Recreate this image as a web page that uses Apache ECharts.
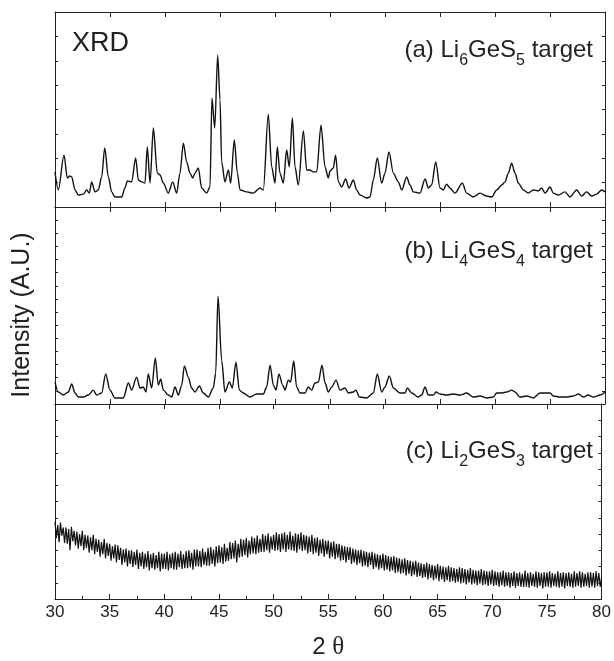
<!DOCTYPE html>
<html>
<head>
<meta charset="utf-8">
<script src="https://cdn.jsdelivr.net/npm/echarts@6/dist/echarts.min.js"></script>
<style>
  html, body { margin: 0; padding: 0; background: #fff; }
  #chart { width: 614px; height: 661px; }
</style>
</head>
<body>
<div id="chart"></div>
<script>
// 2-theta axis
const xMin = 30;
const xMax = 80;
const xStep = 5;

// panel heights in A.U.
const yMaxA = 800;
const yMaxB = 1500;
const yMaxC = 1200;

// (a) Li6GeS5 target  [2theta, intensity]
const patternA = [
  [30.00,144],[30.30,70],[30.82,213],[31.12,119],[31.36,127],[31.52,123],[31.82,70],[32.12,49],[32.58,53],[32.88,70],
  [33.12,57],[33.33,103],[33.64,62],[33.94,70],[34.24,123],[34.52,242],[34.85,123],[35.15,62],[35.45,41],[36.06,41],
  [36.36,78],[36.58,107],[36.97,103],[37.33,201],[37.58,111],[37.88,103],[38.18,98],[38.39,246],[38.64,98],[38.94,324],
  [39.30,139],[39.55,131],[39.85,98],[40.30,57],[40.70,103],[41.06,57],[41.36,139],[41.67,262],[41.97,185],[42.27,139],
  [42.52,119],[42.73,139],[43.03,160],[43.33,78],[43.79,57],[44.09,82],[44.27,447],[44.52,324],[44.79,623],[45.00,439],
  [45.15,185],[45.45,103],[45.76,152],[45.97,98],[46.30,275],[46.58,139],[46.82,70],[47.42,62],[48.03,57],[48.64,78],
  [48.94,70],[49.39,381],[49.70,164],[50.00,98],[50.21,246],[50.45,139],[50.76,98],[51.06,234],[51.30,164],[51.58,365],
  [51.82,164],[52.12,90],[52.58,312],[52.88,152],[53.18,152],[53.48,144],[53.79,144],[54.18,336],[54.55,164],[54.85,119],
  [55.00,148],[55.30,160],[55.51,213],[55.76,103],[56.06,82],[56.42,115],[56.73,78],[57.12,111],[57.42,70],[57.73,49],
  [58.33,37],[58.64,41],[58.94,111],[59.30,201],[59.70,98],[60.00,139],[60.36,226],[60.76,139],[61.21,103],[61.52,70],
  [61.97,123],[62.27,90],[62.58,62],[63.18,57],[63.64,115],[63.94,78],[64.24,90],[64.61,185],[65.00,78],[65.30,70],
  [65.60,94],[65.91,78],[66.36,57],[67.03,98],[67.42,57],[68.03,41],[68.64,57],[69.24,45],[69.70,41],[70.15,70],
  [70.61,90],[70.91,103],[71.21,139],[71.51,180],[71.82,139],[72.12,98],[72.58,70],[73.03,57],[73.48,70],[73.94,66],
  [74.24,78],[74.55,57],[75.00,82],[75.30,57],[75.76,49],[76.36,62],[76.82,41],[77.42,70],[77.88,45],[78.33,62],
  [78.79,45],[79.24,53],[79.70,70],[80.00,62]
];

// (b) Li4GeS4 target  [2theta, intensity]
const patternB = [
  [30.00,167],[30.30,91],[30.76,68],[31.21,91],[31.52,152],[31.82,84],[32.12,53],[32.58,53],[33.03,68],[33.48,106],
  [33.79,68],[34.24,84],[34.61,228],[35.00,106],[35.45,46],[36.21,46],[36.67,160],[36.97,106],[37.42,205],[37.73,122],
  [38.03,129],[38.27,91],[38.48,228],[38.79,122],[39.12,350],[39.39,144],[39.61,190],[39.85,106],[40.30,68],[40.61,53],
  [40.91,129],[41.21,68],[41.52,144],[41.76,289],[42.12,205],[42.42,122],[42.73,91],[43.12,137],[43.48,84],[43.94,53],
  [44.39,122],[44.61,236],[44.82,821],[45.15,334],[45.45,91],[45.85,167],[46.12,122],[46.45,319],[46.76,106],[47.12,84],
  [47.73,53],[48.33,76],[48.94,76],[49.24,129],[49.55,296],[49.85,144],[50.09,106],[50.36,228],[50.70,144],[50.91,106],
  [51.21,182],[51.42,167],[51.70,327],[51.97,129],[52.27,84],[52.73,84],[53.03,129],[53.33,106],[53.64,160],[53.94,167],
  [54.27,296],[54.55,160],[54.85,91],[55.15,129],[55.55,182],[55.91,106],[56.36,122],[56.67,84],[57.12,91],[57.36,106],
  [57.67,53],[58.33,46],[58.94,84],[59.30,228],[59.70,91],[60.00,129],[60.39,213],[60.76,122],[61.36,84],[61.82,84],
  [62.03,122],[62.42,84],[63.03,53],[63.33,68],[63.64,129],[63.94,68],[64.39,68],[64.64,91],[65.00,76],[65.60,68],
  [66.20,76],[66.82,68],[67.42,84],[68.03,53],[68.64,61],[69.24,46],[69.85,53],[70.15,84],[70.61,84],[71.06,91],
  [71.52,106],[71.82,91],[72.27,53],[72.88,61],[73.48,46],[74.09,84],[74.55,84],[75.00,84],[75.30,61],[75.91,53],
  [76.52,53],[77.12,61],[77.58,76],[78.03,53],[78.48,68],[78.94,53],[79.55,68],[80.00,91]
];

// (c) Li2GeS3 target, amorphous - one reading every 0.125 deg from 30 to 80
const startC = 30;
const stepC = 0.125;
const intensityC = [
  475,375,455,350,470,390,440,345,  440,340,430,300,445,355,420,330,
  415,310,400,325,420,300,395,315,  390,285,380,300,395,275,370,290,
  365,260,350,275,370,250,345,265,  340,235,325,250,335,225,330,240,
  315,210,305,225,310,200,300,215,  300,195,290,210,305,185,285,200,
  290,185,280,195,295,175,275,190,  285,180,270,190,290,170,280,185,
  280,185,290,175,275,190,285,180,  290,180,280,195,295,185,275,190,
  295,190,300,195,285,180,305,200,  305,200,295,195,310,210,290,205,
  315,205,320,215,305,200,325,220,  330,225,320,215,340,230,315,235,
  350,245,345,250,360,225,340,255,  370,260,365,270,375,255,360,275,
  385,280,375,275,390,285,370,290,  400,290,390,300,405,285,385,305,
  395,295,410,300,400,290,405,305,  410,290,395,305,415,300,390,295,
  405,285,400,305,410,295,395,300,  390,280,385,290,395,275,375,285,
  380,265,365,280,370,260,360,275,  360,250,350,260,355,245,340,255,
  340,235,330,240,325,225,320,240,  320,215,310,225,305,210,300,220,
  305,200,295,205,290,195,285,210,  290,185,280,195,275,180,270,190,
  280,175,270,180,265,170,260,175,  265,160,255,165,250,155,245,160,
  250,145,240,155,235,140,230,150,  235,135,225,140,220,130,215,135,
  225,120,215,130,210,115,205,125,  215,110,205,120,200,105,195,115,
  205,105,195,110,190,100,185,105,  195,95,190,100,185,90,180,100,
  190,90,180,95,175,85,175,95,      185,85,175,90,170,80,170,90,
  180,80,170,85,165,75,165,85,      175,75,165,80,165,70,160,80,
  170,70,160,80,165,75,155,75,      175,75,160,70,165,80,155,75,
  170,70,165,80,160,65,165,75,      165,75,170,70,160,80,155,75,
  170,70,160,75,165,65,160,80,      165,75,155,70,170,75,160,80,
  170,70,165,75,155,80,165,70,      165,75,160,70,170,80,160,75,
  130
];

const frameColor = "#222";
const traceColor = "#111";
const sans = '"Liberation Sans", Arial, sans-serif';

const grids = [
  { left: 55, right: 9, top: 12, height: 195 },
  { left: 55, right: 9, top: 207, height: 197 },
  { left: 55, right: 9, top: 404, height: 196 },
];

function xAxisFor(gridIndex, position) {
  let isBottom = gridIndex === 2 && position === "bottom";
  let axis = {
    type: "value",
    gridIndex: gridIndex,
    position: position,
    min: xMin,
    max: xMax,
    interval: xStep,
    axisLine: { show: true, onZero: false, lineStyle: { color: frameColor, width: 1 } },
    axisTick: { show: true, inside: true, length: 5, lineStyle: { color: frameColor } },
    axisLabel: { show: false },
    splitLine: { show: false },
  };
  if (isBottom) {
    axis.axisLabel = { show: true, color: "#222", fontSize: 17, fontFamily: sans, margin: 5 };
    axis.minorTick = { show: true, splitNumber: 2, length: 3, lineStyle: { color: frameColor } };
    axis.name = "{a|2 }{b|θ}";
    axis.nameLocation = "middle";
    axis.nameGap = 36;
    axis.nameTextStyle = {
      rich: {
        a: { fontSize: 24, fontFamily: sans, color: "#222" },
        b: { fontSize: 25, fontFamily: '"Liberation Serif", "Times New Roman", serif', color: "#222" },
      },
    };
  }
  return axis;
}

function yAxisFor(gridIndex, position, yMax) {
  return {
    type: "value",
    gridIndex: gridIndex,
    position: position,
    min: 0,
    max: yMax,
    interval: 100,
    axisLine: { show: true, onZero: false, lineStyle: { color: frameColor, width: 1 } },
    axisTick: { show: true, inside: true, length: 3, lineStyle: { color: frameColor } },
    axisLabel: { show: false },
    splitLine: { show: false },
  };
}

let seriesC = intensityC.map((v, i) => [startC + i * stepC, v]);

// panel label with subscripts
function panelLabel(y, parts) {
  return {
    type: "text",
    x: 593,
    y: y,
    style: {
      text: parts,
      align: "right",
      textAlign: "right",
      verticalAlign: "top",
      textVerticalAlign: "top",
      fill: "#222",
      rich: {
        m: { fontSize: 24, fontFamily: sans, lineHeight: 26, verticalAlign: "top", fill: "#222" },
        s: { fontSize: 16, fontFamily: sans, lineHeight: 16, verticalAlign: "top", padding: [15, 0, 0, 0], fill: "#222" },
      },
    },
  };
}

let chart = echarts.init(document.getElementById("chart"));
let options = {
  animation: false,
  backgroundColor: "#fff",
  grid: grids,
  xAxis: [
    xAxisFor(0, "bottom"), xAxisFor(0, "top"),
    xAxisFor(1, "bottom"), xAxisFor(1, "top"),
    xAxisFor(2, "bottom"), xAxisFor(2, "top"),
  ],
  yAxis: [
    yAxisFor(0, "left", yMaxA), yAxisFor(0, "right", yMaxA),
    yAxisFor(1, "left", yMaxB), yAxisFor(1, "right", yMaxB),
    yAxisFor(2, "left", yMaxC), yAxisFor(2, "right", yMaxC),
  ],
  series: [
    {
      name: "(a) Li6GeS5 target", type: "line", xAxisIndex: 0, yAxisIndex: 0,
      data: patternA, showSymbol: false, smooth: 0.3, smoothMonotone: "x",
      lineStyle: { color: traceColor, width: 1.4 },
    },
    {
      name: "(b) Li4GeS4 target", type: "line", xAxisIndex: 2, yAxisIndex: 2,
      data: patternB, showSymbol: false, smooth: 0.3, smoothMonotone: "x",
      lineStyle: { color: traceColor, width: 1.4 },
    },
    {
      name: "(c) Li2GeS3 target", type: "line", xAxisIndex: 4, yAxisIndex: 4,
      data: seriesC, showSymbol: false, lineStyle: { color: traceColor, width: 1.2 },
    },
  ],
  graphic: [
    {
      type: "text", x: 72, y: 44,
      style: { text: "XRD", font: "27px " + sans, fill: "#222", verticalAlign: "middle", textVerticalAlign: "middle" },
    },
    panelLabel(38, "{m|(a) Li}{s|6}{m|GeS}{s|5}{m| target}"),
    panelLabel(239, "{m|(b) Li}{s|4}{m|GeS}{s|4}{m| target}"),
    panelLabel(439, "{m|(c) Li}{s|2}{m|GeS}{s|3}{m| target}"),
    {
      type: "text", x: 22, y: 315, rotation: Math.PI / 2,
      style: {
        text: "Intensity (A.U.)", font: "25px " + sans, fill: "#222",
        align: "center", textAlign: "center", verticalAlign: "middle", textVerticalAlign: "middle",
      },
    },
  ],
};
chart.setOption(options);
</script>
</body>
</html>
